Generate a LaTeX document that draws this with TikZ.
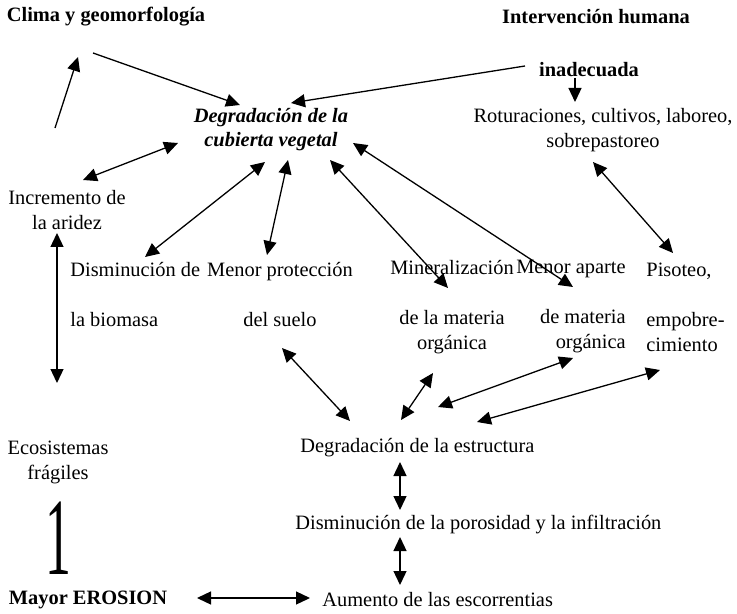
\documentclass[tikz,border=0pt]{standalone}
\usepackage{fontspec}
\setmainfont{Liberation Serif}
\usetikzlibrary{arrows.meta}
\tikzstyle{texto}=[inner sep=1pt, font=\fontsize{10.2}{12.5}\selectfont]
\tikzstyle{titulo}=[inner sep=1pt, font=\fontsize{10.2}{12.5}\selectfont\bfseries]
\tikzstyle{flecha}=[-{Triangle[length=7pt,width=6.5pt]}, line width=0.65pt]
\tikzstyle{doble}=[{Triangle[length=7pt,width=6.5pt]}-{Triangle[length=7pt,width=6.5pt]}, line width=0.65pt]

\begin{document}
\begin{tikzpicture}[x=0.5pt, y=-0.5pt]
            \useasboundingbox (0,0) rectangle (737,614);
            \node[titulo] (clima) at (106,17){Clima y geomorfología};
            \node[titulo] (interv) at (596,17){Intervención humana};
            \node[titulo] (inadec) at (589,70){inadecuada};
            \node[texto, align=center] (rotur) at (603,130){Roturaciones, cultivos, laboreo,\\sobrepastoreo};
            \node[titulo, align=center, font=\fontsize{10.2}{12}\selectfont\bfseries\itshape] (degr) at (271,130){Degradación de la\\cubierta vegetal};
            \node[texto, align=center] (arid) at (67,210){Incremento de\\la aridez};
            \node[texto, align=left, anchor=west] (bio) at (68,295){Disminución de\\[12.5pt]la biomasa};
            \node[texto, align=center] (prot) at (280,295){Menor protección\\[12.5pt]del suelo};
            \node[texto, align=center] (mine) at (452,307){Mineralización\\[12.5pt]de la materia\\orgánica};
            \node[texto, align=right, anchor=east] (apor) at (628,307){Menor aparte\\[12.5pt]de materia\\orgánica};
            \node[texto, align=left, anchor=west] (piso) at (644,307){Pisoteo,\\[12.5pt]empobre-\\cimiento};
            \node[texto, anchor=west] (estr) at (298,448){Degradación de la estructura};
            \node[texto, anchor=west] (poro) at (293,525){Disminución de la porosidad y la infiltración};
            \node[texto, anchor=west] (escor) at (320,600){Aumento de las escorrentias};
            \node[texto, align=center] (ecos) at (58,462){Ecosistemas\\frágiles};
            \node[texto] (uno) at (58,538){\scalebox{0.47}[1]{\fontsize{55}{55}\selectfont 1}};
            \node[titulo] (erosion) at (88,600){Mayor EROSION};
            \path
                ([shift={(-64,-4)}]inadec.center) edge[flecha] ([shift={(20,-27)}]degr.center)
                ([shift={(-14,8)}]inadec.center) edge[flecha] ([shift={(-28,-28)}]rotur.center)
                ([shift={(-13,36)}]clima.center) edge[flecha] ([shift={(-31,-25)}]degr.center)
                ([shift={(-12,-82)}]arid.center) edge[flecha] ([shift={(-28,40)}]clima.center)
                ([shift={(16,-30)}]arid.center) edge[doble] ([shift={(-93,13)}]degr.center)
                ([shift={(-10,23)}]arid.center) edge[doble] ([shift={(-1,-79)}]ecos.center)
                ([shift={(77,-38)}]bio.west) edge[doble] ([shift={(-6,32)}]degr.center)
                ([shift={(-13,-40)}]prot.center) edge[doble] ([shift={(17,30)}]degr.center)
                ([shift={(-4,-19)}]mine.center) edge[doble] ([shift={(59,30)}]degr.center)
                ([shift={(-55,-20)}]apor.east) edge[doble] ([shift={(82,13)}]degr.center)
                ([shift={(29,-54)}]piso.west) edge[doble] ([shift={(-10,32)}]rotur.center)
                ([shift={(2,53)}]prot.center) edge[doble] ([shift={(52,-27)}]estr.west)
                ([shift={(-19,66)}]mine.center) edge[doble] ([shift={(103,-28)}]estr.west)
                ([shift={(-55,51)}]apor.east) edge[doble] ([shift={(140,-41)}]estr.west)
                ([shift={(16,63)}]piso.west) edge[doble] ([shift={(179,-26)}]estr.west)
                ([shift={(102,14)}]estr.west) edge[doble] ([shift={(107,-15)}]poro.west)
                ([shift={(107,12)}]poro.west) edge[doble] ([shift={(80,-15)}]escor.west)
                ([shift={(109,-2)}]erosion.center) edge[doble] ([shift={(-10,-2)}]escor.west)
            ;
\end{tikzpicture}
\end{document}
